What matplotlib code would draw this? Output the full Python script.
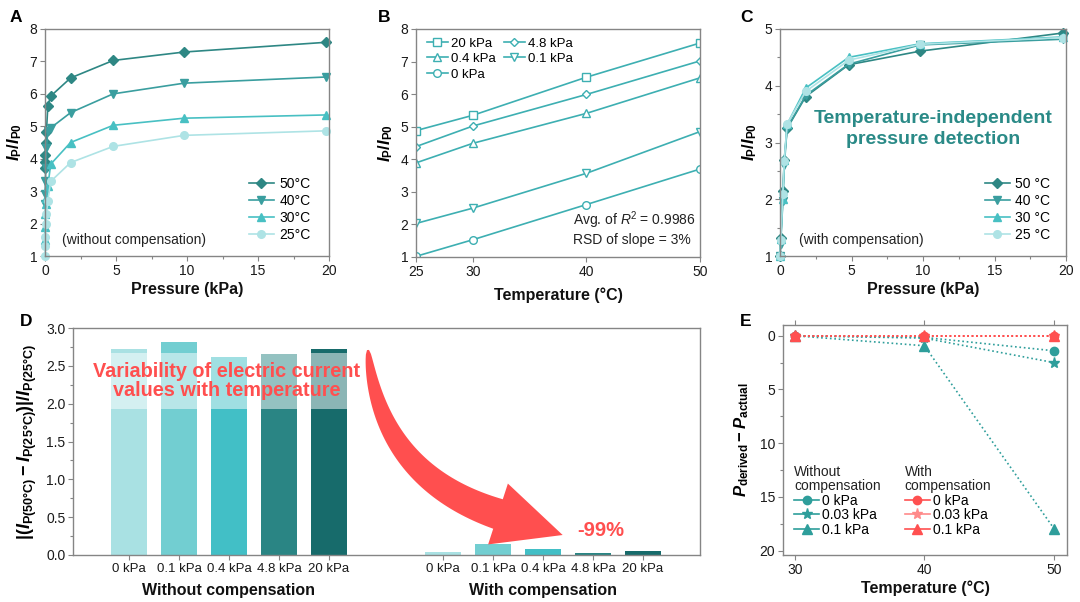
import numpy as np
import matplotlib
matplotlib.use("Agg")
import matplotlib.pyplot as plt
from matplotlib.patches import Polygon
from matplotlib.lines import Line2D
from matplotlib.ticker import MultipleLocator, FormatStrFormatter

plt.rcParams['font.family'] = ['Liberation Sans', 'DejaVu Sans']
plt.rcParams['mathtext.fontset'] = 'custom'
plt.rcParams['mathtext.rm'] = 'Liberation Sans:bold'
plt.rcParams['mathtext.it'] = 'Liberation Sans:italic:bold'
plt.rcParams['mathtext.bf'] = 'Liberation Sans:bold'
plt.rcParams['mathtext.sf'] = 'Liberation Sans:italic'
plt.rcParams['mathtext.tt'] = 'Liberation Sans'

# ---------------- data ----------------
# Panel A (without compensation)
pA = [0, 0.01, 0.03, 0.05, 0.1, 0.2, 0.4, 1.8, 4.8, 9.8, 19.8]
a_50 = [3.7, 3.9, 4.1, 4.5, 4.83, 5.63, 5.93, 6.49, 7.03, 7.29, 7.59]
a_40 = [2.6, 2.9, 3.3, 3.7, 4.32, 4.86, 4.95, 5.42, 6.0, 6.33, 6.52]
a_30 = [1.5, 1.9, 2.3, 2.6, 2.8, 3.15, 3.83, 4.5, 5.03, 5.25, 5.35]
a_25 = [1.0, 1.3, 1.6, 2.0, 2.3, 2.7, 3.3, 3.88, 4.38, 4.72, 4.86]
temps_labels_A = ['50°C', '40°C', '30°C', '25°C']

# Panel B
tB = [25, 30, 40, 50]
b_20 = [4.88, 5.35, 6.52, 7.57]
b_48 = [4.39, 5.02, 5.99, 7.02]
b_04 = [3.89, 4.49, 5.41, 6.50]
b_01 = [2.03, 2.50, 3.57, 4.85]
b_0 = [1.02, 1.53, 2.61, 3.70]

# Panel C (with compensation)
pC = [0, 0.05, 0.2, 0.3, 0.5, 1.8, 4.8, 9.8, 19.8]
c_50 = [1.0, 1.32, 2.15, 2.7, 3.25, 3.81, 4.37, 4.61, 4.93]
c_40 = [1.0, 1.22, 1.97, 2.6, 3.26, 3.83, 4.38, 4.72, 4.82]
c_30 = [1.0, 1.30, 2.00, 2.7, 3.32, 3.96, 4.50, 4.74, 4.86]
c_25 = [1.0, 1.28, 2.10, 2.68, 3.33, 3.90, 4.45, 4.73, 4.85]
temps_labels_C = ['50 °C', '40 °C', '30 °C', '25 °C']

# Panel D
d_labels = ['0 kPa', '0.1 kPa', '0.4 kPa', '4.8 kPa', '20 kPa']
d_without = [2.72, 2.81, 2.62, 2.66, 2.72]
d_with = [0.044, 0.145, 0.08, 0.026, 0.053]

# Panel E
tE = [30, 40, 50]
e_wo_0 = [0.0, 0.15, 1.4]
e_wo_003 = [0.0, 0.22, 2.5]
e_wo_01 = [0.0, 0.93, 17.95]
e_w_0 = [0.0, 0.0, 0.0]
e_w_003 = [0.0, 0.0, 0.0]
e_w_01 = [0.0, 0.0, 0.0]
e_labels = ['0 kPa', '0.03 kPa', '0.1 kPa']

# ---------------- style ----------------
cA = ['#2E8784', '#3A9E9F', '#48C0C3', '#AEE3E5']
cB = '#3DAFB2'
cD = ['#A9E1E3', '#72CED1', '#42BFC6', '#2A8584', '#176B6B']
teal = '#2E9E9B'
red = '#FF5050'
red_l = '#FF8A8A'
txt_red = '#FF4F4F'
spine_c = '#858585'

W, H = 1080, 602
fig = plt.figure(figsize=(W / 100, H / 100), dpi=100)


def ax_px(l, t, r, b):
    return fig.add_axes([l / W, 1 - b / H, (r - l) / W, (b - t) / H])


def style(ax):
    for s in ax.spines.values():
        s.set_color(spine_c)
        s.set_linewidth(1.0)
    ax.tick_params(which='both', direction='out', color=spine_c, labelcolor='#1a1a1a',
                   labelsize=10, width=0.8, pad=2)
    ax.tick_params(which='major', length=3.5)
    ax.tick_params(which='minor', length=2)


lab_kw = dict(fontsize=11.5, fontweight='bold', color='#111')


def panel_letter(x, y, s):
    fig.text(x / W, 1 - y / H, s, fontsize=12.5, fontweight='bold', ha='left', va='center')


# ---------------- Panel A ----------------
axA = ax_px(45, 29, 329, 256)
style(axA)
mk = ['D', 'v', '^', 'o']
ms = [5, 6, 6, 5.5]
for y, c, m, s, l in zip([a_50, a_40, a_30, a_25], cA, mk, ms, temps_labels_A):
    axA.plot(pA, y, color=c, marker=m, ms=s, lw=1.2, label=l, clip_on=False)
axA.set_xlim(0, 20)
axA.set_ylim(1, 8)
axA.xaxis.set_major_locator(MultipleLocator(5))
axA.xaxis.set_minor_locator(MultipleLocator(2.5))
axA.set_xlabel('Pressure (kPa)', labelpad=3, **lab_kw)
axA.set_ylabel(r'$I_{\mathrm{P}}/I_{\mathrm{P0}}$', fontsize=12, labelpad=4)
axA.legend(loc='lower right', bbox_to_anchor=(0.97, 0.02), frameon=False, fontsize=10,
           handlelength=1.8, handletextpad=0.4, labelspacing=0.22, borderpad=0.2)
axA.text(0.06, 0.07, '(without compensation)', transform=axA.transAxes, fontsize=10,
         color='#222', va='center', ha='left')
panel_letter(10, 17, 'A')

# ---------------- Panel B ----------------
axB = ax_px(416, 29, 700, 257)
style(axB)
bser = [(b_20, 's', '20 kPa'), (b_48, 'D', '4.8 kPa'), (b_04, '^', '0.4 kPa'),
        (b_01, 'v', '0.1 kPa'), (b_0, 'o', '0 kPa')]
hB = {}
for y, m, l in bser:
    msz = 4.5 if m == 'D' else 5.5
    hB[l], = axB.plot(tB, y, color=cB, marker=m, ms=msz, mfc='white', mec=cB, mew=1.0,
                      lw=1.2, label=l)
axB.set_xlim(25, 50)
axB.set_ylim(1, 8)
axB.set_xticks([25, 30, 40, 50])
order = ['20 kPa', '0.4 kPa', '0 kPa', '4.8 kPa', '0.1 kPa']
axB.legend([hB[k] for k in order], order, ncol=2, loc='upper left', bbox_to_anchor=(0.0, 1.01),
           frameon=False, fontsize=9.5, handlelength=1.6, handletextpad=0.25,
           labelspacing=0.25, columnspacing=0.6, borderpad=0.3)
axB.text(0.553, 0.162, r'Avg. of $\mathsf{R}^{\mathtt{2}}$ = 0.9986', transform=axB.transAxes,
         fontsize=10, color='#222', va='center', ha='left')
axB.text(0.553, 0.075, 'RSD of slope = 3%', transform=axB.transAxes,
         fontsize=10, color='#222', va='center', ha='left')
axB.set_xlabel('Temperature (°C)', labelpad=6, **lab_kw)
axB.set_ylabel(r'$I_{\mathrm{P}}/I_{\mathrm{P0}}$', fontsize=12, labelpad=4)
panel_letter(378, 17, 'B')

# ---------------- Panel C ----------------
axC = ax_px(780, 29, 1066, 256)
style(axC)
for y, c, m, s, l in zip([c_50, c_40, c_30, c_25], cA, mk, ms, temps_labels_C):
    axC.plot(pC, y, color=c, marker=m, ms=s, lw=1.2, label=l, clip_on=False)
axC.set_xlim(0, 20)
axC.set_ylim(1, 5)
axC.xaxis.set_major_locator(MultipleLocator(5))
axC.xaxis.set_minor_locator(MultipleLocator(2.5))
axC.yaxis.set_major_locator(MultipleLocator(1))
axC.yaxis.set_minor_locator(MultipleLocator(0.5))
axC.set_xlabel('Pressure (kPa)', labelpad=3, **lab_kw)
axC.set_ylabel(r'$I_{\mathrm{P}}/I_{\mathrm{P0}}$', fontsize=12, labelpad=4)
axC.legend(loc='lower right', bbox_to_anchor=(0.98, 0.02), frameon=False, fontsize=10,
           handlelength=1.8, handletextpad=0.4, labelspacing=0.22, borderpad=0.2)
axC.text(0.066, 0.07, '(with compensation)', transform=axC.transAxes, fontsize=10,
         color='#222', va='center', ha='left')
axC.text(0.535, 0.56, 'Temperature-independent\npressure detection', transform=axC.transAxes,
         fontsize=14, fontweight='bold', color='#2A8A87', ha='center', va='center',
         linespacing=1.35)
panel_letter(740, 17, 'C')

# ---------------- Panel D ----------------
axD = ax_px(73, 328, 700, 555)
style(axD)
x_wo = np.arange(len(d_labels))
x_w = np.arange(len(d_labels)) + 6.28
bw = 0.73
axD.bar(x_wo, d_without, width=bw, color=cD, zorder=2)
axD.bar(x_w, d_with, width=bw, color=cD, zorder=2)
axD.set_xlim(-1.12, 11.42)
axD.set_ylim(0, 3.0)
axD.yaxis.set_major_locator(MultipleLocator(0.5))
axD.yaxis.set_minor_locator(MultipleLocator(0.25))
axD.yaxis.set_major_formatter(FormatStrFormatter('%.1f'))
axD.set_xticks(np.concatenate([x_wo, x_w]))
axD.set_xticklabels(d_labels + d_labels, fontsize=9.5)
axD.set_ylabel(r'$|(I_{\mathrm{P(50°C)}}-I_{\mathrm{P(25°C)}})|/I_{\mathrm{P(25°C)}}$',
               fontsize=13, labelpad=5)
axD.text(x_wo.mean(), -0.47, 'Without compensation', ha='center', va='center', **lab_kw)
axD.text(x_w.mean(), -0.47, 'With compensation', ha='center', va='center', **lab_kw)
axD.text(1.96, 2.30, 'Variability of electric current\nvalues with temperature',
         fontsize=14.3, fontweight='bold', color=txt_red, ha='center', va='center',
         linespacing=1.05, zorder=4,
         bbox=dict(boxstyle='square,pad=0.45', fc='white', ec='none', alpha=0.5))

# curved tapered arrow (decoration), built in figure pixel coordinates
P0 = np.array([368.0, 350.0])
B_ = np.array([498.0, 514.0])
dvec = np.array([0.951, 0.309])
P1 = B_ - 125 * dvec
t = np.linspace(0, 1, 60)
pts = ((1 - t) ** 2)[:, None] * P0 + (2 * t * (1 - t))[:, None] * P1 + (t ** 2)[:, None] * B_
der = (2 * (1 - t))[:, None] * (P1 - P0) + (2 * t)[:, None] * (B_ - P1)
der /= np.linalg.norm(der, axis=1)[:, None]
nrm = np.stack([-der[:, 1], der[:, 0]], axis=1)
wid = 2 + 29 * t ** 0.55
left = pts + nrm * (wid / 2)[:, None]
right = pts - nrm * (wid / 2)[:, None]
nB = np.array([-dvec[1], dvec[0]])
tip = B_ + 68 * dvec
head = [B_ + nB * 32, tip, B_ - nB * 32]
poly = np.vstack([left, head, right[::-1]])
poly_fig = np.column_stack([poly[:, 0] / W, 1 - poly[:, 1] / H])
fig.patches.append(Polygon(poly_fig, closed=True, transform=fig.transFigure,
                           fc=txt_red, ec='none', zorder=3))
axD.text(8.96, 0.33, '-99%', fontsize=14.5, fontweight='bold', color=txt_red,
         ha='left', va='center')
panel_letter(20, 322, 'D')

# ---------------- Panel E ----------------
axE = ax_px(783, 325, 1067, 555)
style(axE)
emk = ['o', '*', '^']
ems = [6, 8, 6.5]
for y, m, s in zip([e_w_0, e_w_003, e_w_01], emk, ems):
    axE.plot(tE, y, ls=':', color=red, marker=m, ms=s, lw=1.2, clip_on=False, zorder=3)
for y, m, s in zip([e_wo_0, e_wo_003, e_wo_01], emk, ems):
    axE.plot(tE, y, ls=':', color=teal, marker=m, ms=s, lw=1.2, clip_on=False, zorder=2)
axE.set_xlim(29.1, 51)
axE.set_ylim(20.4, -1)
axE.set_xticks(tE)
axE.yaxis.set_major_locator(MultipleLocator(5))
axE.yaxis.set_minor_locator(MultipleLocator(2.5))
axE.tick_params(axis='x', which='both', top=True)
axE.set_xlabel('Temperature (°C)', labelpad=3, **lab_kw)
axE.set_ylabel(r'$P_{\mathrm{derived}} - P_{\mathrm{actual}}$', fontsize=12, labelpad=6)
h_wo = [Line2D([], [], color=teal, marker=m, ms=s, lw=1.2) for m, s in zip(emk, ems)]
h_w = [Line2D([], [], color=c, marker=m, ms=s, lw=1.2)
       for m, s, c in zip(emk, ems, [red, red_l, red])]
leg1 = axE.legend(h_wo, e_labels, title='Without\ncompensation', loc='upper left',
                  bbox_to_anchor=(0.0, 0.44), frameon=False, fontsize=10,
                  title_fontsize=10, handlelength=1.8, handletextpad=0.2,
                  labelspacing=0.05, borderpad=0.3, alignment='left')
leg2 = axE.legend(h_w, e_labels, title='With\ncompensation', loc='upper left',
                  bbox_to_anchor=(0.39, 0.44), frameon=False, fontsize=10,
                  title_fontsize=10, handlelength=1.8, handletextpad=0.2,
                  labelspacing=0.05, borderpad=0.3, alignment='left')
axE.add_artist(leg1)
for lg in (leg1, leg2):
    lg.get_title().set_color('#222')
    lg.get_title().set_linespacing(1.0)
panel_letter(740, 321, 'E')

fig.savefig('out.png', dpi=100)
